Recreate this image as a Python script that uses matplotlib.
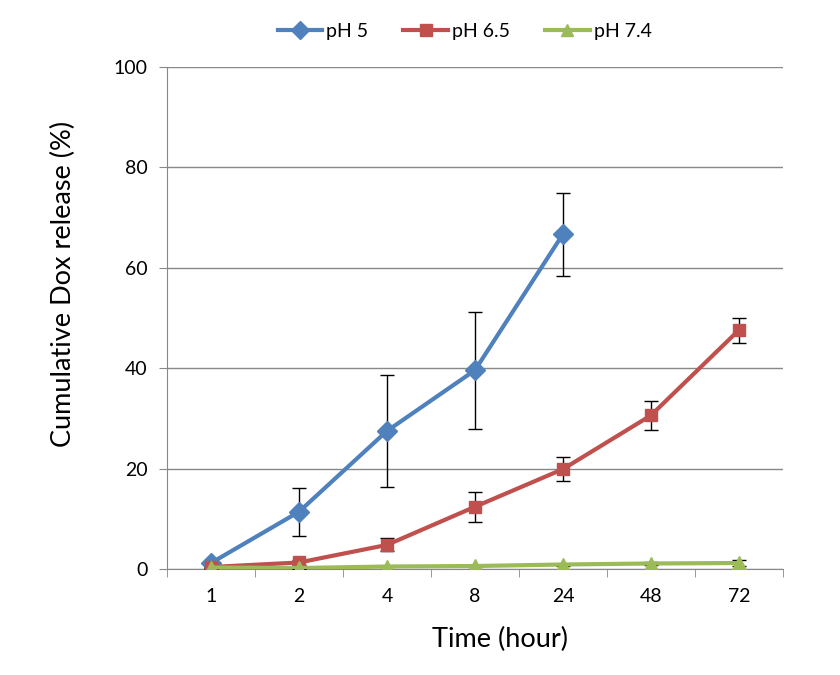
import numpy as np
import matplotlib.pyplot as plt
from matplotlib.lines import Line2D

plt.rcParams['font.family'] = ['Lato', 'DejaVu Sans']

times = ['1', '2', '4', '8', '24', '48', '72']

ph5 = [1.2, 11.4, 27.5, 39.6, 66.7]
ph5_err = [0.5, 4.8, 11.2, 11.7, 8.3]

ph65 = [0.4, 1.3, 4.8, 12.4, 19.9, 30.6, 47.6]
ph65_err = [0.3, 0.4, 1.3, 3.0, 2.4, 2.9, 2.5]

ph74 = [0.3, 0.2, 0.5, 0.6, 0.9, 1.1, 1.2]
ph74_err = [0.1, 0.1, 0.1, 0.1, 0.2, 0.2, 0.5]

colors = ['#4F81BD', '#C0504D', '#9BBB59']
markers = ['D', 's', '^']
sizes = [10, 9, 10]
labels = ['pH 5', 'pH 6.5', 'pH 7.4']

x = np.arange(len(times))

fig = plt.figure(figsize=(8.4, 6.75), dpi=100)
ax = fig.add_axes([0.1988, 0.157, 0.7332, 0.7437])

series = [(ph5, ph5_err), (ph65, ph65_err), (ph74, ph74_err)]
for (vals, errs), c, m, s in zip(series, colors, markers, sizes):
    ax.errorbar(x[:len(vals)], vals, yerr=errs, color=c, lw=3, marker=m, ms=s,
                ecolor='black', elinewidth=1, capsize=5, capthick=1, zorder=3)

ax.set_xlim(-0.5, len(times) - 0.5)
ax.set_ylim(0, 100)
ax.set_yticks(range(0, 101, 20))
ax.set_xticks(x)
ax.set_xticklabels(times)
ax.set_xticks(np.arange(-0.5, len(times), 1), minor=True)
ax.tick_params(axis='x', which='major', length=0, pad=14, labelsize=14)
ax.tick_params(axis='x', which='minor', length=6, color='#888888', direction='out')
ax.tick_params(axis='y', length=6, color='#888888', direction='out', pad=8, labelsize=14)

ax.grid(axis='y', color='#888888', lw=1)
ax.set_axisbelow(True)
for s in ['top', 'right']:
    ax.spines[s].set_visible(False)
for s in ['left', 'bottom']:
    ax.spines[s].set_color('#888888')

ax.set_xlabel('Time (hour)', fontsize=19.5, labelpad=12)
ax.xaxis.set_label_coords(0.541, -0.116)
ax.set_ylabel('Cumulative Dox release (%)', fontsize=19.5)
ax.yaxis.set_label_coords(-0.148, 0.567)

handles = [Line2D([], [], color=c, lw=3, marker=m, ms=s - 1) for c, m, s in zip(colors, markers, sizes)]
fig.legend(handles, labels, loc='center', bbox_to_anchor=(0.553, 0.953), ncol=3, frameon=False,
           fontsize=14, handlelength=2.3, columnspacing=1.8, handletextpad=0.2)

fig.savefig('out.png', dpi=100, facecolor='white')
